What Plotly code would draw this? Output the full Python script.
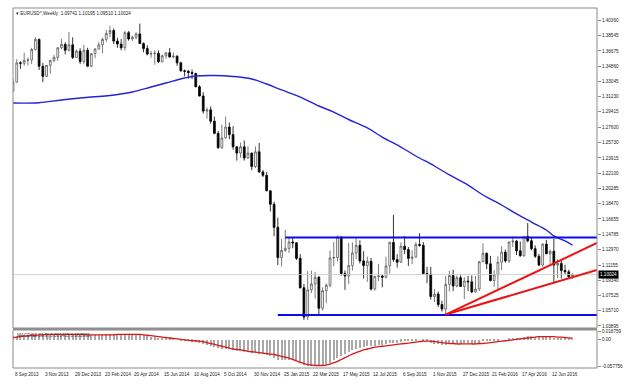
import pandas as pd
import plotly.graph_objects as go

# ---------------- data ----------------
week_start = "2013-09-08"
n_weeks = 151
weeks = pd.date_range(week_start, periods=n_weeks, freq="7D")

opens = [1.3190,1.3295,1.3525,1.3520,1.3555,1.3560,1.3685,1.3805,1.3485,1.3365,
         1.3495,1.3555,1.3590,1.3705,1.3745,1.3675,1.3740,1.3590,1.3665,1.3540,
         1.3675,1.3485,1.3635,1.3690,1.3740,1.3805,1.3875,1.3910,1.3785,1.3750,
         1.3705,1.3885,1.3810,1.3830,1.3870,1.3755,1.3695,1.3630,1.3635,1.3640,
         1.3540,1.3610,1.3645,1.3595,1.3605,1.3525,1.3430,1.3425,1.3410,1.3400,
         1.3240,1.3130,1.2950,1.2965,1.2830,1.2685,1.2515,1.2630,1.2760,1.2670,
         1.2525,1.2450,1.2525,1.2390,1.2450,1.2290,1.2465,1.2225,1.2185,1.2000,
         1.1840,1.1565,1.1205,1.1290,1.1315,1.1390,1.1380,1.1195,1.0845,1.0495,
         1.0820,1.0890,1.0970,1.0600,1.0810,1.0875,1.1200,1.1205,1.1450,1.1015,
         1.0985,1.1110,1.1260,1.1350,1.1165,1.1110,1.1160,1.0830,1.0980,1.0985,
         1.0970,1.1105,1.1385,1.1180,1.1150,1.1340,1.1300,1.1195,1.1210,1.1360,
         1.1350,1.1015,1.1005,1.0740,1.0770,1.0645,1.0590,1.0885,1.0990,1.0865,
         1.0965,1.0860,1.0925,1.0915,1.0795,1.0830,1.1155,1.1255,1.1130,1.0930,
         1.1000,1.1150,1.1270,1.1165,1.1390,1.1400,1.1285,1.1225,1.1455,1.1405,
         1.1310,1.1220,1.1115,1.1365,1.1250,1.1280,1.1115,1.1135,1.1050,1.1035,
         1.09741]
highs = [1.3340,1.3569,1.3545,1.3646,1.3590,1.3705,1.3832,1.3815,1.3525,1.3500,
         1.3560,1.3620,1.3710,1.3810,1.3770,1.3893,1.3830,1.3685,1.3700,1.3740,
         1.3705,1.3640,1.3700,1.3775,1.3825,1.3915,1.3967,1.3935,1.3825,1.3810,
         1.3905,1.3905,1.3850,1.3890,1.3993,1.3770,1.3735,1.3670,1.3675,1.3675,
         1.3625,1.3650,1.3700,1.3650,1.3615,1.3540,1.3445,1.3440,1.3445,1.3405,
         1.3260,1.3175,1.2995,1.3005,1.2885,1.2715,1.2790,1.2885,1.2815,1.2770,
         1.2530,1.2575,1.2600,1.2530,1.2455,1.2530,1.2570,1.2250,1.2225,1.2005,
         1.1870,1.1680,1.1425,1.1535,1.1450,1.1450,1.1390,1.1245,1.0890,1.1043,
         1.1050,1.1035,1.0985,1.0850,1.0895,1.1290,1.1390,1.1467,1.1455,1.1050,
         1.1380,1.1385,1.1435,1.1410,1.1280,1.1215,1.1200,1.0985,1.1130,1.1000,
         1.1215,1.1395,1.1714,1.1245,1.1385,1.1460,1.1330,1.1290,1.1390,1.1495,
         1.1390,1.1095,1.1095,1.0830,1.0800,1.0690,1.0985,1.1045,1.1060,1.0990,
         1.0995,1.0970,1.0985,1.0990,1.0985,1.1165,1.1376,1.1265,1.1225,1.1055,
         1.1220,1.1340,1.1300,1.1395,1.1455,1.1415,1.1395,1.1460,1.1616,1.1445,
         1.1350,1.1250,1.1375,1.1415,1.1300,1.1428,1.1185,1.1185,1.1120,1.1060,
         1.10195]
lows = [1.3180,1.3290,1.3455,1.3490,1.3495,1.3510,1.3675,1.3440,1.3296,1.3355,
        1.3400,1.3530,1.3550,1.3690,1.3625,1.3660,1.3570,1.3585,1.3510,1.3510,
        1.3475,1.3475,1.3580,1.3685,1.3640,1.3775,1.3830,1.3750,1.3705,1.3675,
        1.3670,1.3790,1.3785,1.3805,1.3750,1.3650,1.3615,1.3585,1.3503,1.3525,
        1.3530,1.3575,1.3590,1.3580,1.3490,1.3420,1.3365,1.3335,1.3330,1.3235,
        1.3125,1.2920,1.2860,1.2800,1.2675,1.2500,1.2500,1.2620,1.2615,1.2490,
        1.2360,1.2395,1.2360,1.2385,1.2245,1.2270,1.2215,1.2165,1.1995,1.1755,
        1.1460,1.1115,1.1098,1.1270,1.1260,1.1315,1.1175,1.0835,1.0462,1.0460,
        1.0780,1.0715,1.0520,1.0570,1.0660,1.0850,1.1100,1.1155,1.0990,1.0820,
        1.0890,1.1050,1.1185,1.1135,1.0955,1.0915,1.0810,1.0810,1.0925,1.0850,
        1.0955,1.1015,1.1155,1.1085,1.1140,1.1245,1.1105,1.1125,1.1205,1.1335,
        1.1000,1.0900,1.0705,1.0675,1.0615,1.0560,1.0525,1.0800,1.0805,1.0850,
        1.0855,1.0710,1.0805,1.0780,1.0785,1.0805,1.1150,1.1065,1.0920,1.0855,
        1.0820,1.1055,1.1145,1.1140,1.1330,1.1235,1.1215,1.1215,1.1385,1.1290,
        1.1200,1.1100,1.1095,1.1245,1.1130,1.0912,1.0960,1.0955,1.1000,1.0950,
        1.09510]
closes = [1.3295,1.3525,1.3520,1.3555,1.3560,1.3685,1.3805,1.3485,1.3365,1.3495,
          1.3555,1.3590,1.3705,1.3745,1.3675,1.3740,1.3590,1.3665,1.3540,1.3675,
          1.3485,1.3635,1.3690,1.3740,1.3805,1.3875,1.3910,1.3785,1.3750,1.3705,
          1.3885,1.3810,1.3830,1.3870,1.3755,1.3695,1.3630,1.3635,1.3640,1.3540,
          1.3610,1.3645,1.3595,1.3605,1.3525,1.3430,1.3425,1.3410,1.3400,1.3240,
          1.3130,1.2950,1.2965,1.2830,1.2685,1.2515,1.2630,1.2760,1.2670,1.2525,
          1.2450,1.2525,1.2390,1.2450,1.2290,1.2465,1.2225,1.2185,1.2000,1.1840,
          1.1565,1.1205,1.1290,1.1315,1.1390,1.1380,1.1195,1.0845,1.0495,1.0820,
          1.0890,1.0970,1.0600,1.0810,1.0875,1.1200,1.1205,1.1450,1.1015,1.0985,
          1.1110,1.1260,1.1350,1.1165,1.1110,1.1160,1.0830,1.0980,1.0985,1.0970,
          1.1105,1.1385,1.1180,1.1150,1.1340,1.1300,1.1195,1.1210,1.1360,1.1350,
          1.1015,1.1005,1.0740,1.0770,1.0645,1.0590,1.0885,1.0990,1.0865,1.0965,
          1.0860,1.0925,1.0915,1.0795,1.0830,1.1155,1.1255,1.1130,1.0930,1.1000,
          1.1150,1.1270,1.1165,1.1390,1.1400,1.1285,1.1225,1.1455,1.1405,1.1310,
          1.1220,1.1115,1.1365,1.1250,1.1280,1.1115,1.1135,1.1050,1.1035,1.0975,
          1.10024]

# moving average (read at selected bars: bar index, value)
ma_bar = [0,7,13,21,26,32,37,41,46,49,54,59,64,68,72,77,82,86,90,95,99,104,108,
          113,117,122,126,131,135,139,143,145,148,150]
ma_val = [1.3047,1.3050,1.3083,1.3118,1.3136,1.3178,1.3237,1.3285,1.3345,1.3369,
          1.3375,1.3363,1.3333,1.3273,1.3202,1.3118,1.3011,1.2939,1.2850,1.2749,
          1.2641,1.2522,1.2415,1.2296,1.2189,1.2069,1.1950,1.1831,1.1724,1.1628,
          1.1533,1.1462,1.1402,1.1354]

macd_hist = [0.008,0.009,0.010,0.011,0.011,0.012,0.013,0.013,0.012,0.012,
             0.012,0.012,0.012,0.013,0.013,0.013,0.012,0.012,0.011,0.011,
             0.010,0.010,0.010,0.010,0.011,0.012,0.013,0.013,0.013,0.012,
             0.012,0.012,0.012,0.011,0.011,0.010,0.008,0.007,0.006,0.005,
             0.004,0.003,0.002,0.001,0.000,-0.001,-0.002,-0.003,-0.004,-0.005,
             -0.007,-0.009,-0.011,-0.013,-0.015,-0.018,-0.019,-0.019,-0.020,-0.022,
             -0.024,-0.025,-0.026,-0.027,-0.028,-0.029,-0.030,-0.031,-0.033,-0.036,
             -0.039,-0.043,-0.044,-0.045,-0.045,-0.045,-0.047,-0.050,-0.056,-0.058,
             -0.057,-0.057,-0.058,-0.056,-0.054,-0.050,-0.045,-0.039,-0.035,-0.031,
             -0.027,-0.023,-0.019,-0.017,-0.015,-0.013,-0.014,-0.013,-0.012,-0.012,
             -0.010,-0.007,-0.006,-0.006,-0.004,-0.003,-0.003,-0.003,-0.001,0.000,
             -0.002,-0.003,-0.006,-0.008,-0.010,-0.012,-0.011,-0.009,-0.009,-0.008,
             -0.008,-0.007,-0.007,-0.008,-0.008,-0.006,-0.003,-0.002,-0.003,-0.003,
             -0.002,0.000,0.000,0.002,0.004,0.004,0.004,0.006,0.008,0.008,
             0.007,0.006,0.007,0.007,0.007,0.005,0.004,0.003,0.002,0.001,
             0.001]
macd_signal = [0.005,0.006,0.007,0.008,0.009,0.010,0.010,0.011,0.011,0.012,
               0.012,0.012,0.012,0.012,0.012,0.012,0.012,0.012,0.012,0.012,
               0.011,0.011,0.011,0.011,0.011,0.011,0.011,0.011,0.012,0.012,
               0.012,0.012,0.012,0.012,0.012,0.011,0.010,0.009,0.008,0.007,
               0.006,0.005,0.004,0.003,0.002,0.001,0.000,-0.001,-0.002,-0.002,
               -0.003,-0.004,-0.006,-0.008,-0.010,-0.012,-0.014,-0.016,-0.018,-0.020,
               -0.021,-0.022,-0.023,-0.025,-0.026,-0.027,-0.028,-0.029,-0.030,-0.031,
               -0.032,-0.034,-0.036,-0.038,-0.040,-0.043,-0.046,-0.049,-0.052,-0.054,
               -0.055,-0.056,-0.056,-0.056,-0.055,-0.053,-0.050,-0.047,-0.043,-0.039,
               -0.035,-0.031,-0.028,-0.025,-0.022,-0.020,-0.018,-0.016,-0.015,-0.014,
               -0.013,-0.012,-0.011,-0.010,-0.009,-0.008,-0.007,-0.006,-0.005,-0.004,
               -0.003,-0.003,-0.003,-0.004,-0.005,-0.006,-0.007,-0.008,-0.008,-0.009,
               -0.009,-0.009,-0.009,-0.009,-0.009,-0.008,-0.008,-0.007,-0.006,-0.005,
               -0.004,-0.003,-0.002,-0.001,0.000,0.001,0.002,0.003,0.004,0.005,
               0.006,0.007,0.007,0.007,0.007,0.007,0.006,0.006,0.005,0.004,
               0.004]

# drawn objects
channel_top = {"start": "2015-02-01", "price": 1.1443}
channel_bottom = {"start": "2015-01-18", "price": 1.0520}
fan_start = ("2015-11-29", 1.0525)
fan_end_prices = [1.1378, 1.1056]
view_end = "2016-09-08"
current_price = 1.10024

price_ticks = [1.40360,1.38545,1.36675,1.34860,1.33045,1.31230,1.29415,1.27600,
               1.25730,1.23915,1.22100,1.20285,1.18470,1.16655,1.14785,1.12970,
               1.11155,1.09340,1.07525,1.05710,1.03895]
macd_ticks = [0.018759, 0.0, -0.057756]
macd_tick_text = ["0.018759", "0.00", "-0.057756"]
date_labels = ["8 Sep 2013","3 Nov 2013","29 Dec 2013","23 Feb 2014","20 Apr 2014",
               "15 Jun 2014","10 Aug 2014","5 Oct 2014","30 Nov 2014","25 Jan 2015",
               "22 Mar 2015","17 May 2015","12 Jul 2015","6 Sep 2015","1 Nov 2015",
               "27 Dec 2015","21 Feb 2016","17 Apr 2016","12 Jun 2016"]
title_text = "\u25be EURUSD^,Weekly  1.09741 1.10195 1.09510 1.10024"
macd_text = "MACD(12,26,9) 0.001465 0.003969"

# ---------------- figure ----------------
FONT = "Liberation Sans, Arial, sans-serif"
FS = 4.6
fig = go.Figure()

fig.add_trace(go.Candlestick(
    x=weeks, open=opens, high=highs, low=lows, close=closes,
    increasing=dict(line=dict(color="#5a5a5a", width=0.8), fillcolor="#ffffff"),
    decreasing=dict(line=dict(color="#000000", width=0.8), fillcolor="#000000"),
    whiskerwidth=0, showlegend=False, hoverinfo="skip", xaxis="x", yaxis="y"))

fig.add_trace(go.Scatter(
    x=[weeks[i] for i in ma_bar], y=ma_val, mode="lines", line_shape="spline",
    line=dict(color="#2323d8", width=1.4), showlegend=False, hoverinfo="skip",
    xaxis="x", yaxis="y"))

# current price line
fig.add_trace(go.Scatter(x=[week_start, view_end], y=[current_price, current_price],
                         mode="lines", line=dict(color="#c8c8c8", width=0.8),
                         showlegend=False, hoverinfo="skip", xaxis="x", yaxis="y"))

# channel lines
for ln in (channel_top, channel_bottom):
    fig.add_trace(go.Scatter(x=[ln["start"], view_end], y=[ln["price"], ln["price"]],
                             mode="lines", line=dict(color="#0b0bf0", width=2),
                             showlegend=False, hoverinfo="skip", xaxis="x", yaxis="y"))
# fan lines
for p in fan_end_prices:
    fig.add_trace(go.Scatter(x=[fan_start[0], view_end], y=[fan_start[1], p],
                             mode="lines", line=dict(color="#ee1111", width=2),
                             showlegend=False, hoverinfo="skip", xaxis="x", yaxis="y"))

# MACD
fig.add_trace(go.Bar(x=weeks, y=macd_hist, width=2 * 86400000,
                     marker=dict(color="#a9a9a9", line=dict(width=0)),
                     showlegend=False, hoverinfo="skip", xaxis="x", yaxis="y2"))
fig.add_trace(go.Scatter(x=weeks, y=macd_signal, mode="lines",
                         line=dict(color="#e01515", width=1.3, shape="spline"),
                         showlegend=False, hoverinfo="skip", xaxis="x", yaxis="y2"))

main_bottom = 40 / 360
macd_top = 38 / 360

fig.update_layout(
    width=631, height=389,
    margin=dict(l=13, r=34, t=8, b=21),
    paper_bgcolor="white", plot_bgcolor="white",
    font=dict(family=FONT, size=FS, color="#222"),
    bargap=0,
    hovermode=False,
    xaxis=dict(type="date", range=[week_start, view_end], anchor="y2",
               showgrid=False, zeroline=False, showticklabels=False, showline=False,
               rangeslider=dict(visible=False)),
    yaxis=dict(domain=[main_bottom, 1], range=[1.0365, 1.4179], side="right",
               anchor="x", tickvals=price_ticks,
               ticktext=[f"{v:.5f}" for v in price_ticks],
               ticks="outside", ticklen=3, tickcolor="#888", tickwidth=0.8,
               showgrid=False, zeroline=False, showline=False, automargin=False,
               tickfont=dict(size=FS, family=FONT, color="#222")),
    yaxis2=dict(domain=[0, macd_top], range=[-0.0615, 0.0215], side="right",
                anchor="x", tickvals=macd_ticks, ticktext=macd_tick_text,
                ticks="outside", ticklen=3, tickcolor="#888", tickwidth=0.8,
                showgrid=False, zeroline=False, showline=False, automargin=False,
                tickfont=dict(size=FS, family=FONT, color="#222")),
)

shapes = [
    dict(type="rect", xref="paper", yref="paper", x0=0, x1=1, y0=main_bottom, y1=1,
         line=dict(color="#8a8a8a", width=1), fillcolor="rgba(0,0,0,0)"),
    dict(type="rect", xref="paper", yref="paper", x0=0, x1=1, y0=0, y1=macd_top,
         line=dict(color="#8a8a8a", width=1), fillcolor="rgba(0,0,0,0)"),
    dict(type="rect", xref="paper", yref="paper", x0=0, x1=1, y0=macd_top, y1=main_bottom,
         line=dict(width=0), fillcolor="#8f8f8f"),
]
fig.update_layout(shapes=shapes)

ann = []
for lbl in date_labels:
    ann.append(dict(x=pd.Timestamp(lbl), xref="x", y=0, yref="paper", text=lbl,
                    showarrow=False, xanchor="left", yanchor="top", yshift=-2,
                    font=dict(size=FS, family=FONT, color="#222")))
ann.append(dict(x=0, xref="paper", y=1, yref="paper", text=title_text, showarrow=False,
                xanchor="left", yanchor="top", xshift=1, yshift=-1,
                font=dict(size=FS, family=FONT, color="#222")))
ann.append(dict(x=0, xref="paper", y=macd_top, yref="paper", text=macd_text,
                showarrow=False, xanchor="left", yanchor="top", xshift=2, yshift=-1,
                font=dict(size=FS, family=FONT, color="#444")))
ann.append(dict(x=1, xref="paper", y=current_price, yref="y", text=f"{current_price:.5f}",
                showarrow=False, xanchor="left", yanchor="middle", xshift=1,
                bgcolor="#000000", borderpad=1,
                font=dict(size=FS, family=FONT, color="#ffffff")))
fig.update_layout(annotations=ann)

fig.write_html("out.html", config={"displayModeBar": False},
               post_script="document.body.style.margin='0';")
